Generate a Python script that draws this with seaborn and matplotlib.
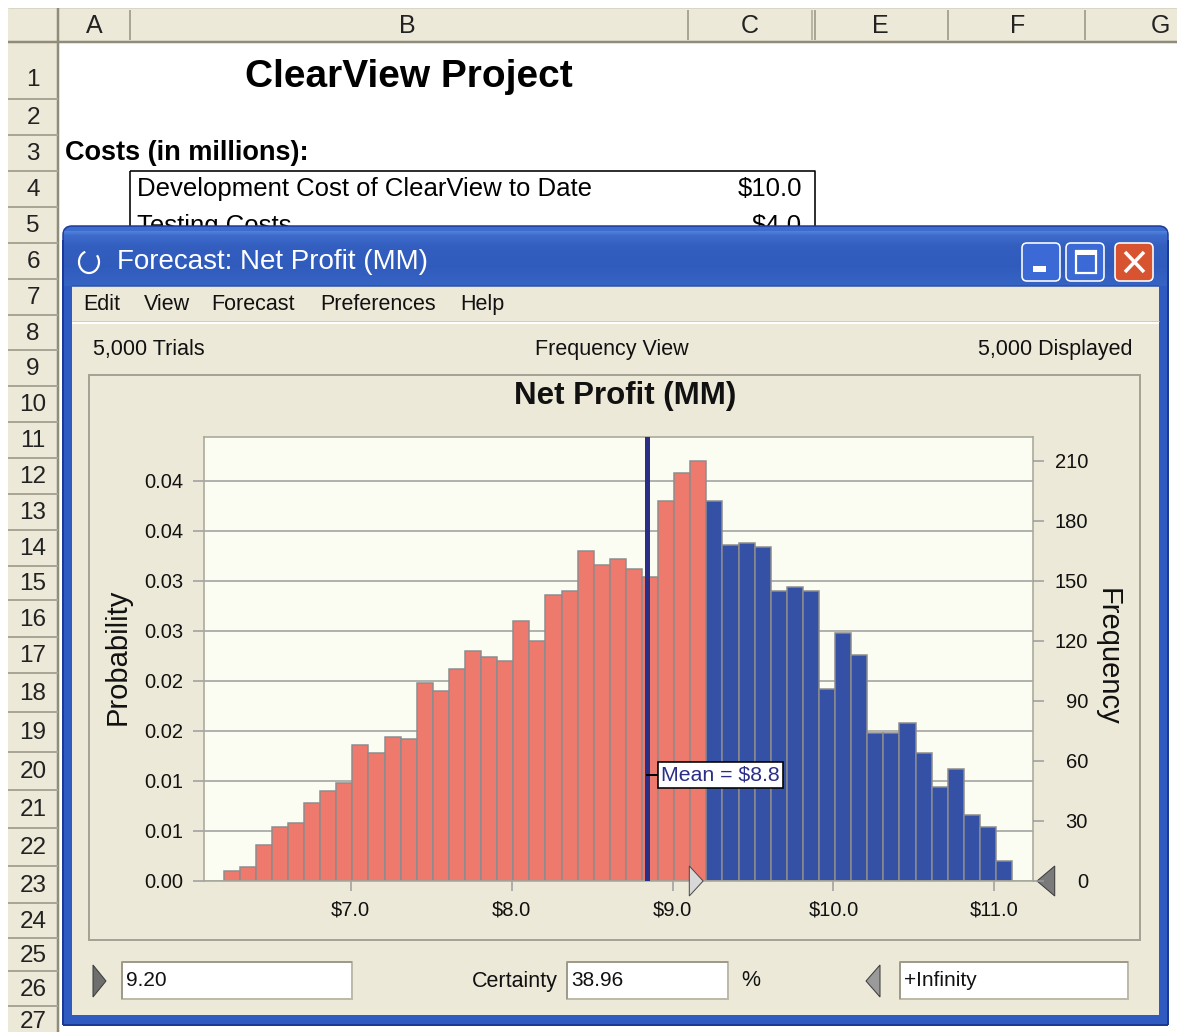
import numpy as np
import pandas as pd
import matplotlib
matplotlib.use("Agg")
import matplotlib.pyplot as plt
import seaborn as sns
from matplotlib.patches import Rectangle, Polygon, FancyBboxPatch, Arc
from matplotlib.lines import Line2D
from matplotlib.transforms import Affine2D

# ---------------- data ----------------
profit_bins = [6.26, 6.36, 6.46, 6.56, 6.66, 6.76, 6.86, 6.96, 7.06, 7.16,
               7.26, 7.36, 7.46, 7.56, 7.66, 7.76, 7.86, 7.96, 8.06, 8.16,
               8.26, 8.36, 8.46, 8.56, 8.66, 8.76, 8.86, 8.96, 9.06, 9.16,
               9.26, 9.36, 9.46, 9.56, 9.66, 9.76, 9.86, 9.96, 10.06, 10.16,
               10.26, 10.36, 10.46, 10.56, 10.66, 10.76, 10.86, 10.96, 11.06]
frequency = [5, 7, 18, 27, 29, 39, 45, 49, 68, 64,
             72, 71, 99, 95, 106, 115, 112, 110, 130, 120,
             143, 145, 165, 158, 161, 156, 152, 190, 204, 210,
             190, 168, 169, 167, 145, 147, 145, 96, 124, 113,
             74, 74, 79, 64, 47, 56, 33, 27, 10]
bin_width = 0.1
trials = 5000
cutoff = 9.20
certainty = "38.96"
mean_value = 8.84
mean_label = "Mean = $8.8"

x_ticks = [7, 8, 9, 10, 11]
x_tick_labels = ["$7.0", "$8.0", "$9.0", "$10.0", "$11.0"]
prob_ticks = [0.000, 0.005, 0.010, 0.015, 0.020, 0.025, 0.030, 0.035, 0.040]
prob_tick_labels = ["0.00", "0.01", "0.01", "0.02", "0.02", "0.03", "0.03", "0.04", "0.04"]
freq_ticks = [0, 30, 60, 90, 120, 150, 180, 210]

col_letters = ["A", "B", "C", "E", "F", "G"]
row_numbers = list(range(1, 28))
menu_items = ["Edit", "View", "Forecast", "Preferences", "Help"]

# ---------------- colours ----------------
RED = "#EE7A6D"
BLUE = "#3551A6"
EDGE = "#8C8C8C"
BEIGE = "#ECE9D8"
PLOT_BG = "#FBFCF2"
NAVY = "#2A2E86"

W, H = 1177, 1032
FONT = "Liberation Sans"
plt.rcParams["font.family"] = [FONT, "DejaVu Sans"]

fig = plt.figure(figsize=(W / 100, H / 100), dpi=100)
fig.patch.set_facecolor("white")
T = Affine2D().scale(1 / W, -1 / H).translate(0, 1) + fig.transFigure
PX = 0.72  # points per pixel


def rect(x0, y0, x1, y1, fc, ec="none", lw=0.0, z=1.0, **kw):
    fig.add_artist(Rectangle((x0, y0), x1 - x0, y1 - y0, transform=T,
                             fc=fc, ec=ec, lw=lw * PX, zorder=z, **kw))


def line(xs, ys, color, lw, z=1.0):
    fig.add_artist(Line2D(xs, ys, transform=T, color=color, lw=lw * PX,
                          zorder=z, solid_capstyle="butt"))


def txt(x, y, s, size, z=2.0, **kw):
    kw.setdefault("va", "center")
    fig.text(x / W, 1 - y / H, s, fontsize=size, zorder=z, **kw)


# ---------------- spreadsheet ----------------
col_edges = [58, 130, 688, 815, 948, 1085, 1177]
col_centers = [94, 407, 750, 880, 1018, 1160]
rect(8, 8, W, 42, BEIGE, z=0.2)
line([8, W], [42, 42], "#8F8C7C", 2.5, z=0.3)
line([8, W], [8, 8], "#D9D6C6", 1, z=0.3)
for xe in col_edges[:-1]:
    line([xe, xe], [10, 40], "#A9A695", 2, z=0.3)
line([815 - 3, 815 - 3], [10, 40], "#A9A695", 1.5, z=0.3)
for c, xc in zip(col_letters, col_centers):
    txt(xc, 26, c, 18, z=0.4, ha="center", color="#222222")

row_edges = [42, 99, 135, 171, 207, 243, 279, 315, 350, 386, 422, 458, 494,
             530, 566, 600, 637, 673, 712, 752, 790, 828, 866, 903, 938, 971,
             1006, 1036]
rect(8, 42, 58, H, BEIGE, z=0.2)
line([58, 58], [8, H], "#8F8C7C", 2.5, z=0.3)
for i, r in enumerate(row_numbers):
    y0, y1 = row_edges[i], row_edges[i + 1]
    if i < len(row_numbers) - 1:
        line([8, 58], [y1, y1], "#A9A695", 2, z=0.3)
    txt(33, y0 + (y1 - y0) * 0.66 if i == 0 else (y0 + y1) / 2 + 1, str(r), 17.5,
        z=0.4, ha="center", color="#222222")

txt(409, 77, "ClearView Project", 28, z=0.4, ha="center", fontweight="bold")
txt(65, 153, "Costs (in millions):", 19.5, z=0.4, ha="left", fontweight="bold")
line([130, 815, 815], [171, 171, 240], "black", 1.6, z=0.35)
line([130, 130], [171, 240], "black", 1.6, z=0.35)
txt(137, 189, "Development Cost of ClearView to Date", 18.5, z=0.4, ha="left")
txt(802, 189, "$10.0", 18.5, z=0.4, ha="right")
txt(137, 226, "Testing Costs", 18.5, z=0.4, ha="left")
txt(802, 226, "$4.0", 18.5, z=0.4, ha="right")

# ---------------- window frame ----------------
fig.add_artist(FancyBboxPatch((63, 226), 1168 - 63, 1025 - 226,
                              boxstyle="round,pad=0,rounding_size=9", transform=T,
                              fc="#3D6CCF", ec="#1B3A96", lw=1.5 * PX, zorder=1.0))
rect(63, 240, 1168, 1025, "#2F5AC0", z=1.01)
line([63, 63], [240, 1025], "#1B3A96", 2, z=1.02)
line([1168, 1168], [240, 1025], "#1B3A96", 2, z=1.02)
line([63, 1168], [1025, 1025], "#1B3A96", 2, z=1.02)
# title gradient
tb_top, tb_bot = 231, 286
tb_h = tb_bot - tb_top
stops = np.array([0, 4, 15, 35, tb_h - 1], dtype=float)
cols = np.array([[0.32, 0.50, 0.86], [0.24, 0.42, 0.80], [0.20, 0.37, 0.75],
                 [0.19, 0.36, 0.74], [0.21, 0.39, 0.77]])
yy = np.arange(tb_h)
grad = np.stack([np.interp(yy, stops, cols[:, k]) for k in range(3)], axis=1)
img = np.repeat(grad[:, None, :], 1167 - 64, axis=1)
fig.figimage(img[::-1], xo=64, yo=H - tb_bot, zorder=1.05, origin="lower")
rect(72, 286, 1159, 1015, BEIGE, z=1.1)
line([72, 1159], [286, 286], "#2A50B0", 1.5, z=1.12)

# title icon + text
fig.add_artist(Arc((89, 262), 20, 22, theta1=-40, theta2=250, transform=T,
                   color="white", lw=2.2 * PX, zorder=1.2))
txt(117, 262, "Forecast: Net Profit (MM)", 20, z=1.2, ha="left", color="white")

# buttons
for x0, fc in [(1022, "#3B6AD6"), (1066, "#3B6AD6"), (1115, "#D8532F")]:
    fig.add_artist(FancyBboxPatch((x0, 243), 38, 38,
                                  boxstyle="round,pad=0,rounding_size=5", transform=T,
                                  fc=fc, ec="white", lw=1.6 * PX, zorder=1.2))
rect(1033, 266, 1046, 272, "white", z=1.3)
rect(1076, 251, 1096, 273, "none", ec="white", lw=2.2, z=1.3)
rect(1076, 251, 1096, 255, "white", z=1.3)
line([1125, 1144], [252, 272], "white", 3.5, z=1.3)
line([1125, 1144], [272, 252], "white", 3.5, z=1.3)

# menu
menu_x = [83, 144, 211, 320, 460]
for m, mx in zip(menu_items, menu_x):
    txt(mx, 304, m, 15.5, z=1.2, ha="left", color="#111111")
line([72, 1159], [323, 323], "white", 2, z=1.2)
line([72, 1159], [321, 321], "#D0CDBE", 1, z=1.2)

txt(93, 350, "5,000 Trials", 15.5, z=1.2, ha="left", color="#111111")
txt(612, 350, "Frequency View", 15.5, z=1.2, ha="center", color="#111111")
txt(1133, 350, "5,000 Displayed", 15.5, z=1.2, ha="right", color="#111111")

# chart panel
rect(89, 375, 1140, 940, BEIGE, ec="#A6A396", lw=2, z=1.2)
txt(625, 396, "Net Profit (MM)", 22.5, z=1.3, ha="center", fontweight="bold", color="#111111")
txt(118, 657, "Probability", 21, z=1.3, ha="center", rotation=90, color="#111111")
txt(1108, 657, "Frequency", 21, z=1.3, ha="center", rotation=270, color="#111111")

# bottom controls
fig.add_artist(Polygon([(93, 965), (106, 981), (93, 997)], closed=True, transform=T,
                       fc="#6E6E6E", ec="#3A3A3A", lw=1 * PX, zorder=1.3))
for x0, x1, s in [(122, 352, "9.20"), (567, 728, certainty), (900, 1128, "+Infinity")]:
    rect(x0, 962, x1, 999, "white", ec="#BDBAA8", lw=2, z=1.3)
    line([x0, x1], [962, 962], "#9E9B8B", 2, z=1.31)
    line([x0, x0], [962, 999], "#9E9B8B", 2, z=1.31)
    txt(x0 + 4, 981, s, 15, z=1.35, ha="left", color="#111111")
txt(558, 981, "Certainty", 15.5, z=1.3, ha="right", color="#111111")
txt(741, 981, "%", 15.5, z=1.3, ha="left", color="#111111")
fig.add_artist(Polygon([(880, 965), (866, 981), (880, 997)], closed=True, transform=T,
                       fc="#9A9A9A", ec="#3A3A3A", lw=1 * PX, zorder=1.3))

# ---------------- histogram ----------------
df = pd.DataFrame({"profit": profit_bins, "frequency": frequency})
centers = np.asarray(profit_bins)
edges = [float(e) for e in np.r_[centers - bin_width / 2, centers[-1] + bin_width / 2]]
n_left = int((centers < cutoff).sum())
left_df = df[df.profit < cutoff]
right_df = df[df.profit >= cutoff]

ax = fig.add_axes([204 / W, 1 - 881 / H, (1033 - 204) / W, (881 - 437) / H])
ax.set_zorder(5)
ax.set_facecolor(PLOT_BG)
sns.histplot(data=left_df, x="profit", weights="frequency", bins=edges[:n_left + 1],
             color=RED, edgecolor=EDGE, linewidth=1.5 * PX, alpha=1, ax=ax)
sns.histplot(data=right_df, x="profit", weights="frequency", bins=edges[n_left:],
             color=BLUE, edgecolor=EDGE, linewidth=1.5 * PX, alpha=1, ax=ax)
ax.set_xlim(6.088, 11.24)
ax.set_ylim(0, 222)
ax.set_xlabel("")
ax.set_ylabel("")
ax.set_xticks(x_ticks)
ax.set_xticklabels(x_tick_labels)
ax.set_yticks([p * trials for p in prob_ticks])
ax.set_yticklabels(prob_tick_labels)
ax.set_axisbelow(True)
ax.grid(axis="y", color="#9A9A9A", lw=1.5 * PX)
ax.grid(axis="x", visible=False)
for s in ax.spines.values():
    s.set_color("#A9A799")
    s.set_linewidth(1.6 * PX)
ax.tick_params(axis="y", length=11 * PX, width=1.5 * PX, color="#9A9A9A",
               pad=7, labelsize=14.5, labelcolor="#111111")
ax.tick_params(axis="x", length=10 * PX, width=1.5 * PX, color="#9A9A9A",
               pad=7, labelsize=14.5, labelcolor="#111111")

ax2 = ax.twinx()
ax2.set_zorder(6)
ax2.patch.set_visible(False)
ax2.set_ylim(ax.get_ylim())
ax2.set_yticks(freq_ticks)
ax2.set_yticklabels([str(v) for v in freq_ticks])
for s in ax2.spines.values():
    s.set_visible(False)
ax2.tick_params(axis="y", length=11 * PX, width=1.5 * PX, color="#9A9A9A",
                pad=44 * PX, labelsize=14.5, labelcolor="#111111")
for lab in ax2.get_yticklabels():
    lab.set_horizontalalignment("right")

# mean line and label
ax.axvline(mean_value, color=NAVY, lw=5 * PX, zorder=3)
ax.plot([mean_value, mean_value + 0.08], [53, 53], color="black", lw=2 * PX, zorder=4)
ax.text(mean_value + 0.088, 53, mean_label, fontsize=15.3, color=NAVY, va="center",
        ha="left", zorder=5,
        bbox=dict(boxstyle="square,pad=0.16", fc="white", ec="black", lw=1.6 * PX))

# cut-off markers
ax.add_patch(Polygon([(9.104, 7.5), (9.19, 0), (9.104, -7.5)], closed=True,
                     fc="#D8D8D8", ec="#4A4A4A", lw=1 * PX, zorder=6, clip_on=False))
ax.add_patch(Polygon([(11.265, 0), (11.375, 7.5), (11.375, -7.5)], closed=True,
                     fc="#7A7A7A", ec="#3A3A3A", lw=1 * PX, zorder=6, clip_on=False))

fig.savefig("out.png", dpi=100, facecolor="white")
